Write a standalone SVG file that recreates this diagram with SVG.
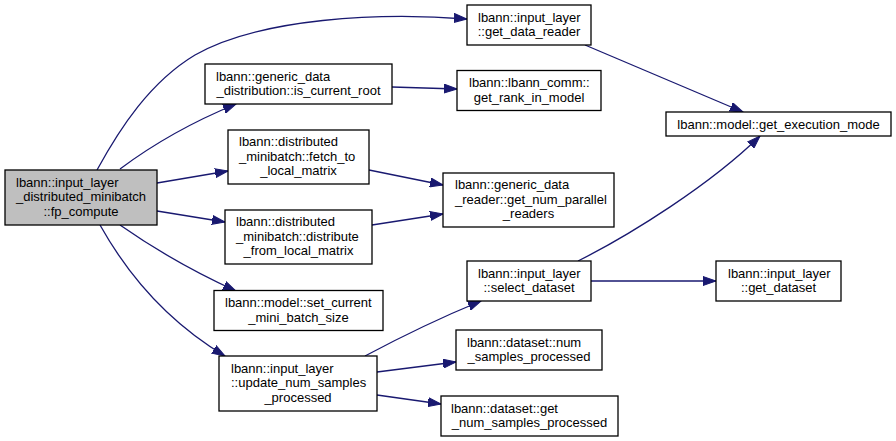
<svg xmlns="http://www.w3.org/2000/svg" width="896" height="441" viewBox="0 0 896 441">
<style>
.n rect{fill:#ffffff;stroke:#000000;stroke-width:1.3}
.n.root rect{fill:#bfbfbf}
.n text{font-family:"Liberation Sans",Arial,sans-serif;font-size:13px;fill:#000000}
.l{text-anchor:start}
.c{text-anchor:middle}
.e path{fill:none;stroke:#191970;stroke-width:1.3;marker-end:url(#ah)}
</style>
<defs>
<marker id="ah" markerUnits="userSpaceOnUse" markerWidth="14" markerHeight="10" viewBox="0 0 14 10" refX="13" refY="5" orient="auto">
<path d="M0,0.5 L13,5 L0,9.5 z" fill="#191970" stroke="#191970" stroke-width="1"/>
</marker>
</defs>
<rect width="896" height="441" fill="#ffffff"/>
<g id="edges" class="e">
<path d="M97,170 C120,128 150,82 195,55 C260,18 380,12 467,19"/>
<path d="M120,169 C148,148 185,125 236,104"/>
<path d="M157,183 L228,171"/>
<path d="M157,211 L225,222"/>
<path d="M120,225 C150,246 190,270 236,291"/>
<path d="M100,225 C128,275 168,322 225,356"/>
<path d="M392,87 L457,89"/>
<path d="M369,170 L443,185"/>
<path d="M372,225 L443,214"/>
<path d="M585,45 L743,112"/>
<path d="M578,261 C630,235 710,185 760,136"/>
<path d="M591,281 L716,281"/>
<path d="M365,356 C395,340 430,322 481,301"/>
<path d="M377,372 L456,362"/>
<path d="M377,395 L441,404"/>
</g>
<g id="n_root" class="n root">
<rect x="5" y="170" width="152" height="55"/>
<text class="l" x="16" y="186.5">lbann::input_layer</text>
<text class="l" x="16" y="201">_distributed_minibatch</text>
<text class="c" x="81" y="215.5">::fp_compute</text>
</g>
<g id="n_get_data_reader" class="n">
<rect x="467" y="5" width="124" height="40"/>
<text class="l" x="478" y="21.5">lbann::input_layer</text>
<text class="c" x="529" y="36">::get_data_reader</text>
</g>
<g id="n_is_current_root" class="n">
<rect x="205" y="64" width="187" height="40"/>
<text class="l" x="216" y="80.5">lbann::generic_data</text>
<text class="c" x="298.5" y="95">_distribution::is_current_root</text>
</g>
<g id="n_get_rank_in_model" class="n">
<rect x="457" y="70.5" width="144" height="40"/>
<text class="l" x="469" y="87">lbann::lbann_comm::</text>
<text class="c" x="529" y="101.5">get_rank_in_model</text>
</g>
<g id="n_fetch_to_local_matrix" class="n">
<rect x="228" y="130" width="141" height="54"/>
<text class="l" x="239" y="146">lbann::distributed</text>
<text class="l" x="239" y="160.5">_minibatch::fetch_to</text>
<text class="c" x="298.5" y="175">_local_matrix</text>
</g>
<g id="n_distribute_from_local_matrix" class="n">
<rect x="225" y="210" width="147" height="54"/>
<text class="l" x="236" y="226">lbann::distributed</text>
<text class="l" x="236" y="240.5">_minibatch::distribute</text>
<text class="c" x="298.5" y="255">_from_local_matrix</text>
</g>
<g id="n_set_current_mini_batch_size" class="n">
<rect x="214" y="290.5" width="169" height="40"/>
<text class="l" x="225" y="307">lbann::model::set_current</text>
<text class="c" x="298.5" y="321.5">_mini_batch_size</text>
</g>
<g id="n_update_num_samples_processed" class="n">
<rect x="219" y="356" width="158" height="55"/>
<text class="l" x="231" y="372.5">lbann::input_layer</text>
<text class="l" x="231" y="387">::update_num_samples</text>
<text class="c" x="298" y="401.5">_processed</text>
</g>
<g id="n_get_execution_mode" class="n">
<rect x="666" y="112" width="225" height="24"/>
<text class="c" x="778.5" y="128.5">lbann::model::get_execution_mode</text>
</g>
<g id="n_get_num_parallel_readers" class="n">
<rect x="443" y="173" width="171" height="54"/>
<text class="l" x="455" y="189">lbann::generic_data</text>
<text class="l" x="455" y="203.5">_reader::get_num_parallel</text>
<text class="c" x="528.5" y="218">_readers</text>
</g>
<g id="n_select_dataset" class="n">
<rect x="467" y="261" width="124" height="40"/>
<text class="l" x="478" y="277.5">lbann::input_layer</text>
<text class="c" x="529" y="292">::select_dataset</text>
</g>
<g id="n_get_dataset" class="n">
<rect x="716" y="261" width="125" height="40"/>
<text class="l" x="728" y="277.5">lbann::input_layer</text>
<text class="c" x="778.5" y="292">::get_dataset</text>
</g>
<g id="n_num_samples_processed" class="n">
<rect x="456" y="330" width="146" height="40"/>
<text class="l" x="467" y="346.5">lbann::dataset::num</text>
<text class="c" x="529" y="361">_samples_processed</text>
</g>
<g id="n_get_num_samples_processed" class="n">
<rect x="441" y="396" width="177" height="40"/>
<text class="l" x="451" y="412.5">lbann::dataset::get</text>
<text class="c" x="529.5" y="427">_num_samples_processed</text>
</g>
</svg>
